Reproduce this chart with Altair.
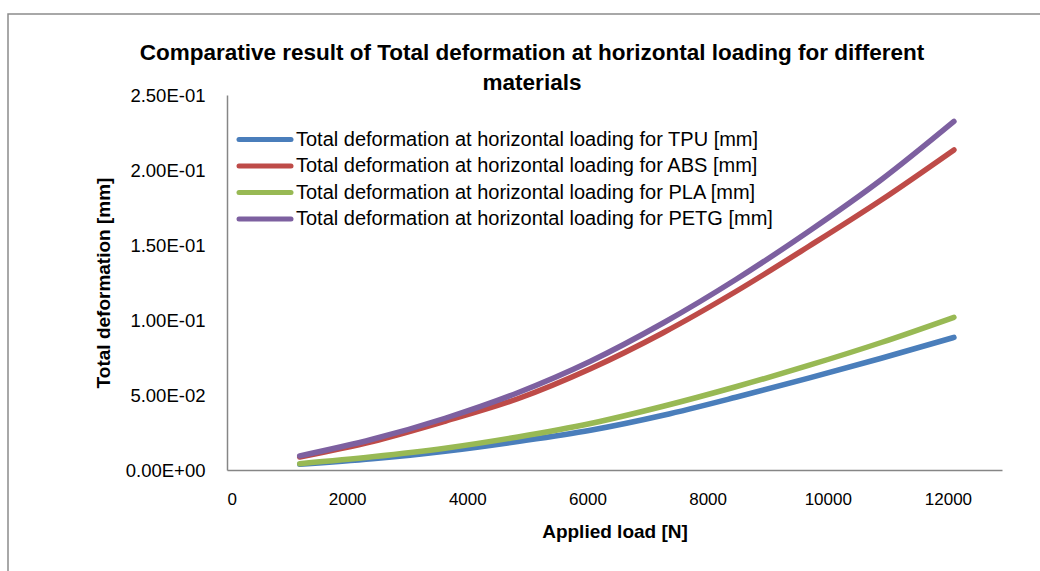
import altair as alt
import pandas as pd

# Applied load [N]
loads = [1210, 2420, 3630, 4840, 6050, 7260, 8470, 9680, 10890, 12100]

# Total deformation [mm] per material
tpu = [0.0038, 0.0075, 0.0125, 0.0190, 0.0265, 0.0365, 0.0485, 0.0613, 0.0745, 0.0884]
abs_ = [0.0087, 0.0190, 0.0325, 0.0475, 0.0675, 0.0915, 0.1190, 0.1490, 0.1800, 0.2134]
pla = [0.0042, 0.0088, 0.0145, 0.0220, 0.0310, 0.0425, 0.0555, 0.0697, 0.0850, 0.1018]
petg = [0.0094, 0.0205, 0.0345, 0.0515, 0.0725, 0.0980, 0.1270, 0.1590, 0.1935, 0.2324]

series_names = [
    "Total deformation at horizontal loading for TPU [mm]",
    "Total deformation at horizontal  loading for ABS [mm]",
    "Total deformation at horizontal loading for PLA [mm]",
    "Total deformation at horizontal loading for PETG [mm]",
]
series_values = [tpu, abs_, pla, petg]
series_colors = ["#4A7EBB", "#BE4B48", "#98B954", "#7D60A0"]

title_lines = [
    "Comparative result of Total deformation at horizontal loading for different",
    "materials",
]

x_ticks = [0, 2000, 4000, 6000, 8000, 10000, 12000]
y_ticks = [0, 0.05, 0.10, 0.15, 0.20, 0.25]

rows = []
for order, (name, vals) in enumerate(zip(series_names, series_values)):
    for load, v in zip(loads, vals):
        rows.append({"material": name, "order": order, "load": load, "deformation": v})
df = pd.DataFrame(rows)

legend_df = pd.DataFrame({"material": series_names, "idx": list(range(len(series_names)))})
title_df = pd.DataFrame({"line": title_lines, "idx": list(range(len(title_lines)))})

FONT = "Liberation Sans"
color_scale = alt.Scale(domain=series_names, range=series_colors)

# Excel-style scientific labels, e.g. 2.50E-01
y_label_expr = (
    "datum.value == 0 ? '0.00E+00' : "
    "format(datum.value / pow(10, floor(log(datum.value) / LN10 + 1e-9)), '.2f') + 'E-0' + "
    "(-floor(log(datum.value) / LN10 + 1e-9))"
)

lines = alt.Chart(df).mark_line(
    strokeWidth=5.5, strokeCap="round", strokeJoin="round", interpolate="monotone"
).encode(
    x=alt.X(
        "load:Q",
        scale=alt.Scale(domain=[0, 12900], nice=False, zero=False),
        axis=alt.Axis(
            values=x_ticks, title="Applied load [N]", grid=False, ticks=False,
            labelPadding=21, titlePadding=15, format="d", labelFontSize=17,
        ),
    ),
    y=alt.Y(
        "deformation:Q",
        scale=alt.Scale(domain=[0, 0.25], nice=False),
        axis=alt.Axis(
            values=y_ticks, title="Total deformation [mm]", grid=False, ticks=False,
            labelPadding=22, titlePadding=12, labelExpr=y_label_expr, labelFontSize=18.5,
        ),
    ),
    color=alt.Color("material:N", scale=color_scale, legend=None),
    order="order:O",
    detail="material:N",
)

legend_base = alt.Chart(legend_df).transform_calculate(ly="44.5 + 26.5 * datum.idx")

legend_swatches = legend_base.mark_rule(strokeWidth=5, strokeCap="round").encode(
    x=alt.value(12),
    x2=alt.value(64),
    y=alt.Y("ly:Q", scale=None),
    color=alt.Color("material:N", scale=color_scale, legend=None),
)

legend_labels = legend_base.mark_text(
    align="left", baseline="middle", font=FONT, fontSize=20, color="#000000"
).encode(
    x=alt.value(69),
    y=alt.Y("ly:Q", scale=None),
    text="material:N",
)

# Chart title, centred over the whole chart frame
title_text = alt.Chart(title_df).transform_calculate(
    ty="-42 + 30 * datum.idx"
).mark_text(
    align="center", baseline="middle", font=FONT, fontSize=22.5, fontWeight="bold",
    color="#000000",
).encode(
    x=alt.value(305),
    y=alt.Y("ty:Q", scale=None),
    text="line:N",
)

frame = alt.Chart(pd.DataFrame({"k": [0]})).mark_rect(
    filled=False, stroke="#8C8C8C", strokeWidth=1.5
).encode(
    x=alt.value(-219), y=alt.value(-81), x2=alt.value(900), y2=alt.value(600)
)

chart = alt.layer(frame, lines, legend_swatches, legend_labels, title_text).properties(
    width=775,
    height=375,
    padding={"left": 227, "top": 95, "right": 38, "bottom": 101},
    autosize="none",
    background="#FFFFFF",
).configure_view(stroke=None).configure_axis(
    domainColor="#868686", domainWidth=1.5,
    labelFont=FONT, labelColor="#000000",
    titleFont=FONT, titleFontSize=19, titleFontWeight="bold", titleColor="#000000",
)

chart.save("out.html", embed_options={"renderer": "svg", "actions": False})
